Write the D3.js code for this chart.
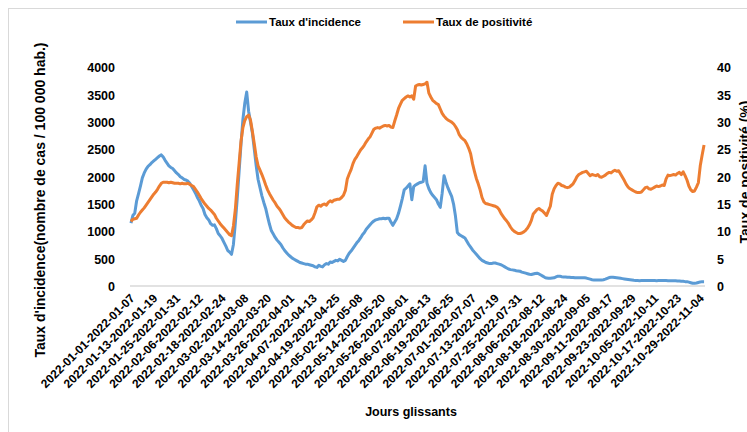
<!DOCTYPE html>
<html><head><meta charset="utf-8">
<script src="https://cdn.jsdelivr.net/npm/d3@7"></script>
<style>
html,body{margin:0;padding:0;background:#fff;}
svg{display:block;font-family:"Liberation Sans",Arial,sans-serif;}
</style></head>
<body>
<svg id="chart" width="747" height="432"></svg>
<script>
// ---------- DATA ----------
const seriesNames = ["Taux d'incidence", "Taux de positivité"];
const startDate = "2022-01-01";
const skippedStart = "2022-05-01";
const nDays = 303;

const tickLabels = [
"2022-01-01-2022-01-07","2022-01-13-2022-01-19","2022-01-25-2022-01-31","2022-02-06-2022-02-12",
"2022-02-18-2022-02-24","2022-03-02-2022-03-08","2022-03-14-2022-03-20","2022-03-26-2022-04-01",
"2022-04-07-2022-04-13","2022-04-19-2022-04-25","2022-05-02-2022-05-08","2022-05-14-2022-05-20",
"2022-05-26-2022-06-01","2022-06-07-2022-06-13","2022-06-19-2022-06-25","2022-07-01-2022-07-07",
"2022-07-13-2022-07-19","2022-07-25-2022-07-31","2022-08-06-2022-08-12","2022-08-18-2022-08-24",
"2022-08-30-2022-09-05","2022-09-11-2022-09-17","2022-09-23-2022-09-29","2022-10-05-2022-10-11",
"2022-10-17-2022-10-23","2022-10-29-2022-11-04"];

const leftTicks = [0,500,1000,1500,2000,2500,3000,3500,4000];
const rightTicks = [0,5,10,15,20,25,30,35,40];

const incidence = [
1150,1290,1330,1560,1690,1830,1980,2070,2140,2190,2220,2260,
2290,2320,2350,2380,2400,2360,2300,2250,2200,2170,2150,2110,
2070,2040,2000,1980,1950,1940,1920,1880,1820,1760,1700,1620,
1560,1480,1420,1310,1250,1210,1140,1110,1120,1050,960,920,
870,800,730,650,620,580,760,1150,1600,2100,2600,3050,
3350,3550,3200,3000,2800,2500,2200,1950,1800,1650,1530,1420,
1270,1130,1010,950,890,840,800,760,700,650,610,570,
540,510,490,470,450,430,420,410,400,400,390,380,
370,350,340,380,360,350,390,410,400,440,430,450,
470,460,490,470,450,470,540,600,640,690,740,790,
830,880,940,980,1040,1080,1120,1160,1190,1210,1220,1230,
1230,1240,1230,1240,1240,1170,1110,1170,1230,1330,1460,1600,
1760,1790,1830,1870,1580,1820,1850,1870,1890,1900,1910,2200,
1880,1780,1710,1660,1620,1580,1500,1440,1700,2020,1900,1800,
1720,1640,1500,1280,980,940,920,900,880,820,760,710,
660,620,580,540,500,470,450,430,420,410,410,420,
420,410,400,390,370,350,330,310,300,295,290,280,
275,270,255,245,235,225,215,210,220,230,235,220,
200,180,160,145,140,140,145,150,165,180,180,170,
165,165,160,160,155,155,150,150,150,150,150,150,
145,135,125,115,110,110,110,110,110,115,125,140,
155,160,160,155,150,145,140,135,130,125,120,115,
110,105,102,100,98,100,101,100,99,100,102,100,
100,98,100,101,100,99,100,98,95,96,95,94,
90,90,85,85,80,80,70,60,50,50,55,65,
75,80,80];

const positivite = [
11.8,12.2,12.3,12.4,13.0,13.5,13.9,14.3,14.8,15.3,15.8,16.3,
16.8,17.2,17.7,18.3,18.8,19.0,19.0,19.0,18.9,19.0,18.9,18.8,
18.8,18.8,18.7,18.8,18.7,18.7,18.8,18.6,18.4,18.2,17.7,17.2,
16.6,16.0,15.5,15.0,14.6,14.2,13.9,13.5,13.1,12.4,11.9,11.4,
11.0,10.6,10.2,9.8,9.4,9.2,11.0,14.0,18.5,22.5,26.5,29.0,
30.3,31.0,31.3,30.4,28.3,26.0,23.6,22.0,21.2,20.4,19.5,18.5,
17.6,16.9,16.3,15.7,15.2,14.6,14.2,13.7,13.1,12.5,12.1,11.7,
11.4,11.1,10.9,10.7,10.7,10.6,10.7,11.2,11.6,11.9,11.8,12.1,
12.5,13.4,14.5,14.8,14.6,14.9,15.0,14.8,15.3,15.6,15.4,15.7,
15.8,15.9,15.9,16.2,16.6,17.5,19.6,20.5,21.3,22.4,23.2,23.7,
24.3,24.9,25.3,25.8,26.4,26.9,27.3,28.0,28.7,28.9,29.0,28.9,
29.1,29.3,29.4,29.3,29.4,29.1,29.0,30.2,31.3,32.5,33.3,34.0,
34.3,34.6,34.8,34.6,34.8,34.2,36.6,36.8,36.9,36.8,36.9,37.0,
37.3,35.3,34.6,34.0,33.7,33.4,33.2,32.4,31.6,31.1,30.7,30.4,
30.2,30.0,29.7,29.2,28.6,27.7,27.2,26.9,26.6,26.0,25.2,24.2,
22.4,21.0,19.7,18.7,17.6,16.2,15.4,15.1,15.0,14.9,14.8,14.7,
14.6,14.4,14.0,13.3,12.8,12.3,11.9,11.4,10.8,10.3,10.0,9.8,
9.6,9.6,9.7,9.9,10.2,10.6,11.2,12.0,13.2,13.6,14.0,14.2,
13.9,13.7,13.3,12.9,13.8,14.6,16.8,17.8,18.4,18.8,18.7,18.4,
18.3,18.1,18.0,18.1,18.4,18.7,19.3,20.0,20.4,20.6,20.8,20.9,
21.0,20.6,20.2,20.4,20.3,20.2,20.4,20.0,19.9,20.1,20.3,20.6,
20.8,20.7,21.0,21.2,21.0,21.1,20.5,19.9,19.3,18.6,18.1,17.8,
17.6,17.4,17.2,17.1,17.1,17.2,17.6,18.0,18.1,17.8,17.7,17.9,
18.1,18.3,18.2,18.3,18.5,18.4,19.6,20.3,20.2,20.3,20.4,20.3,
20.6,20.8,20.4,20.9,20.2,19.4,18.3,17.6,17.3,17.4,18.1,18.9,
22.0,24.0,25.8];

// ---------- CATEGORIES (rolling 7-day windows) ----------
const fmt = d3.timeFormat("%Y-%m-%d");
const parse = d3.timeParse("%Y-%m-%d");
const categories = [];
{
  let d = parse(startDate);
  while (categories.length < nDays) {
    if (fmt(d) !== skippedStart) {
      categories.push(fmt(d) + "-" + fmt(d3.timeDay.offset(d, 6)));
    }
    d = d3.timeDay.offset(d, 1);
  }
}

// ---------- LAYOUT ----------
const svg = d3.select("#chart");
const plot = {left: 130, right: 705, top: 67.5, bottom: 286};
const colors = ["#5b9bd5", "#ed7d31"];

svg.append("rect").attr("x", 8.5).attr("y", 8.5).attr("width", 760).attr("height", 440)
  .attr("fill", "#fff").attr("stroke", "#d9d9d9").attr("stroke-width", 1);

const x = d3.scalePoint().domain(categories).range([plot.left, plot.right]).padding(0.5);
const yL = d3.scaleLinear().domain([0, 4000]).range([plot.bottom, plot.top]);
const yR = d3.scaleLinear().domain([0, 40]).range([plot.bottom, plot.top]);

// axes
const gL = svg.append("g").attr("transform", `translate(${plot.left},0)`)
  .call(d3.axisLeft(yL).tickValues(leftTicks).tickFormat(d3.format("d")).tickSize(0).tickPadding(15));
gL.select(".domain").remove();
gL.selectAll("text").attr("font-size", 12.5).attr("font-weight", "bold").attr("fill", "#000")
  .attr("font-family", "Liberation Sans, Arial, sans-serif").attr("dy", "0.35em");

const gR = svg.append("g").attr("transform", `translate(${plot.right},0)`)
  .call(d3.axisRight(yR).tickValues(rightTicks).tickFormat(d3.format("d")).tickSize(0).tickPadding(12));
gR.select(".domain").remove();
gR.selectAll("text").attr("font-size", 12.5).attr("font-weight", "bold").attr("fill", "#000")
  .attr("font-family", "Liberation Sans, Arial, sans-serif").attr("dy", "0.35em");

const tickSet = new Set(tickLabels);
const gB = svg.append("g").attr("transform", `translate(0,${plot.bottom})`)
  .call(d3.axisBottom(x).tickValues(categories.filter(c => tickSet.has(c))).tickSize(0).tickPadding(0));
gB.select(".domain").attr("stroke", "#d9d9d9").attr("stroke-width", 1.5)
  .attr("d", `M${plot.left},0H${plot.right}`);
gB.selectAll("text")
  .attr("font-size", 12).attr("font-weight", "bold").attr("fill", "#000")
  .attr("font-family", "Liberation Sans, Arial, sans-serif")
  .attr("text-anchor", "end")
  .attr("dy", null).attr("y", null)
  .attr("transform", "translate(4,13) rotate(-45)");

// lines
const lineL = d3.line().x((d, i) => x(categories[i])).y(d => yL(d));
const lineR = d3.line().x((d, i) => x(categories[i])).y(d => yR(d));
svg.append("path").datum(incidence).attr("d", lineL).attr("fill", "none")
  .attr("stroke", colors[0]).attr("stroke-width", 3).attr("stroke-linejoin", "round");
svg.append("path").datum(positivite).attr("d", lineR).attr("fill", "none")
  .attr("stroke", colors[1]).attr("stroke-width", 3).attr("stroke-linejoin", "round");

// axis titles
svg.append("text").attr("transform", "translate(45,200) rotate(-90)")
  .attr("text-anchor", "middle").attr("font-size", 14).attr("font-weight", "bold")
  .text("Taux d'incidence(nombre de cas / 100 000 hab.)");
svg.append("text").attr("transform", "translate(750,172) rotate(-90)")
  .attr("text-anchor", "middle").attr("font-size", 14).attr("font-weight", "bold")
  .text("Taux de positivité (%)");
svg.append("text").attr("x", 411).attr("y", 416)
  .attr("text-anchor", "middle").attr("font-size", 12.5).attr("font-weight", "bold")
  .text("Jours glissants");

// legend
const legend = [
  {name: seriesNames[0], color: colors[0], x: 236},
  {name: seriesNames[1], color: colors[1], x: 403}
];
const lg = svg.append("g");
legend.forEach(l => {
  lg.append("line").attr("x1", l.x).attr("x2", l.x + 31).attr("y1", 22).attr("y2", 22)
    .attr("stroke", l.color).attr("stroke-width", 3);
  lg.append("text").attr("x", l.x + 33).attr("y", 26).attr("font-size", 11.5)
    .attr("font-weight", "bold").text(l.name);
});
</script>
</body></html>
